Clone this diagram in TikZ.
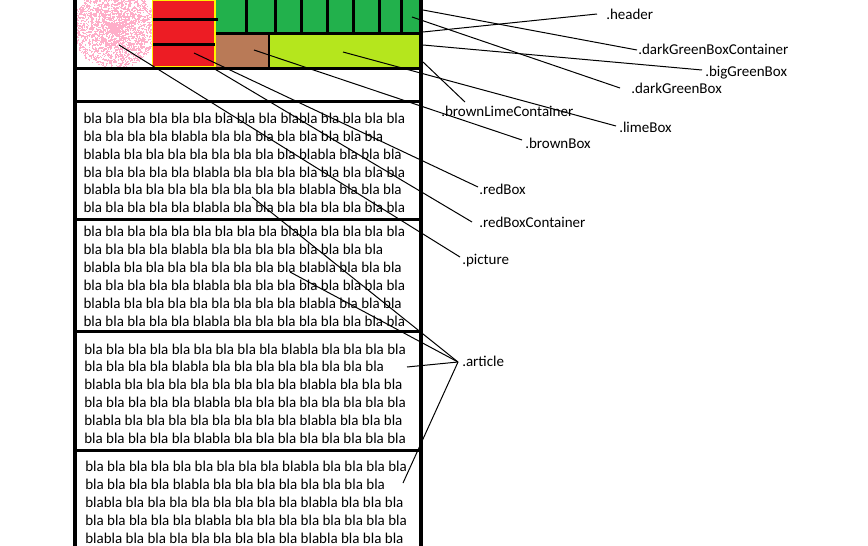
\documentclass[tikz,border=0pt]{standalone}
\usepackage{fontspec}
\setmainfont{Carlito}
\usepackage{xcolor}
\definecolor{redc}{HTML}{ED1C24}
\definecolor{yelc}{HTML}{FFF200}
\definecolor{dgreenc}{HTML}{22B14C}
\definecolor{brownc}{HTML}{B97A57}
\definecolor{limec}{HTML}{B5E61D}
\definecolor{pinkc}{HTML}{FFAEC9}
\tikzset{
  edge/.style={line width=3pt,black},
  sep/.style={line width=2.25pt,black},
  septhin/.style={line width=1.5pt,black},
  lead/.style={line width=0.75pt,black},
  bla/.style={font=\fontsize{11.25}{13.5}\selectfont,anchor=base west,inner sep=0pt},
  tag/.style={font=\fontsize{11.25}{13.5}\selectfont,anchor=base west,inner sep=0pt}
}
\begin{document}
\begin{tikzpicture}[x=0.75pt,y=-0.75pt]
\useasboundingbox (0,0) rectangle (868,546);
\fill[white] (0,0) rectangle (868,546);
% sprayed picture
\begin{scope}
\clip (77,0) rectangle (151.5,67);
\pgfmathsetseed{41}
\foreach \i in {1,...,2600}{
  \pgfmathsetmacro{\rr}{rnd^0.7}
  \pgfmathsetmacro{\aa}{360*rnd}
  \pgfmathsetmacro{\px}{114+42*\rr*cos(\aa)}
  \pgfmathsetmacro{\py}{28+40*\rr*sin(\aa)}
  \fill[pinkc] (\px,\py) rectangle ++(1.3,1.3);}
\end{scope}
% header boxes
\fill[redc] (152,0) rectangle (215.5,67);
\draw[yelc,line width=1.1pt] (152.7,0.7) rectangle (214.8,66.8);
\fill[dgreenc] (216,0) rectangle (418.5,32.5);
\fill[brownc] (216,33) rectangle (268.5,67);
\fill[limec] (269.5,33) rectangle (418.5,67);
\foreach \dx in {246.5,275,301,327,353,379.5,401}
  \draw[sep] (\dx,0) -- (\dx,33);
\draw[sep] (216,33.5) -- (420,33.5);
\draw[septhin] (269,33.5) -- (269,67);
\draw[sep] (153,19.2) -- (217.5,19.2);
\draw[sep] (153,44.2) -- (214.5,44.2);
% page frame
\foreach \hy in {68,101.5,219.5,331.5,450.5}
  \draw[sep] (73,\hy) -- (422.5,\hy);
\draw[edge] (74.7,0) -- (74.7,546);
\draw[edge] (420.5,0) -- (420.5,546);
% articles
\foreach \ax/\ay/\nl [count=\ia] in {83.3/123.3/6,83.3/236.7/6,84/354/6,85/471.7/5}{
  \foreach \ln [count=\k] in {bla bla bla bla bla bla bla bla bla blabla bla bla bla bla,
    bla bla bla bla blabla bla bla bla bla bla bla bla bla,
    blabla bla bla bla bla bla bla bla bla blabla bla bla bla,
    bla bla bla bla bla blabla bla bla bla bla bla bla bla bla,
    blabla bla bla bla bla bla bla bla bla blabla bla bla bla,
    bla bla bla bla bla blabla bla bla bla bla bla bla bla bla}{
    \ifnum\k>\nl\relax\else
      \node[bla] (art\ia-\k) at (\ax,\ay+17.9*\k-17.9) {\ln};
    \fi}}
% labels
\node[tag] (tHeader) at (606,20) {.header};
\node[tag] (tDgbc) at (638,55) {.darkGreenBoxContainer};
\node[tag] (tBig) at (705,76) {.bigGreenBox};
\node[tag] (tDgb) at (631,93.3) {.darkGreenBox};
\node[tag] (tBlc) at (441,116) {.brownLimeContainer};
\node[tag] (tLime) at (619,132.7) {.limeBox};
\node[tag] (tBrown) at (525,148.7) {.brownBox};
\node[tag] (tRed) at (479,194.3) {.redBox};
\node[tag] (tRbc) at (479,227) {.redBoxContainer};
\node[tag] (tPic) at (462,264.3) {.picture};
\node[tag] (tArt) at (462,366) {.article};
% leader points
\foreach \n/\x/\y in {pinkPt/119/45, redPt/194/53, redCorner/213/68, brownPt/254/50,
    limePt/343/52, dgbPt/412/17, dgbcPt/423/10, hdrPt/423/32, bigPt/423/45, blcPt/423/62,
    artA/252/197, artB/290/272, artC/407/367, artD/403/483,
    picEnd/460/257, redEnd/478/187, rbcEnd/472/222, brownEnd/522/140, limeEnd/616/126,
    dgbEnd/620/88, dgbcEnd/637/50, hdrEnd/597/14, bigEnd/702/70, blcEnd/465/102, artEnd/458/362}
  \coordinate (\n) at (\x,\y);
\draw[lead] (pinkPt) -- (picEnd);
\draw[lead] (redPt) -- (redEnd);
\draw[lead] (redCorner) -- (rbcEnd);
\draw[lead] (brownPt) -- (brownEnd);
\draw[lead] (limePt) -- (limeEnd);
\draw[lead] (dgbPt) -- (dgbEnd);
\draw[lead] (dgbcPt) -- (dgbcEnd);
\draw[lead] (hdrPt) -- (hdrEnd);
\draw[lead] (bigPt) -- (bigEnd);
\draw[lead] (blcPt) -- (blcEnd);
\foreach \p in {artA,artB,artC,artD}
  \draw[lead] (\p) -- (artEnd);
\end{tikzpicture}
\end{document}
